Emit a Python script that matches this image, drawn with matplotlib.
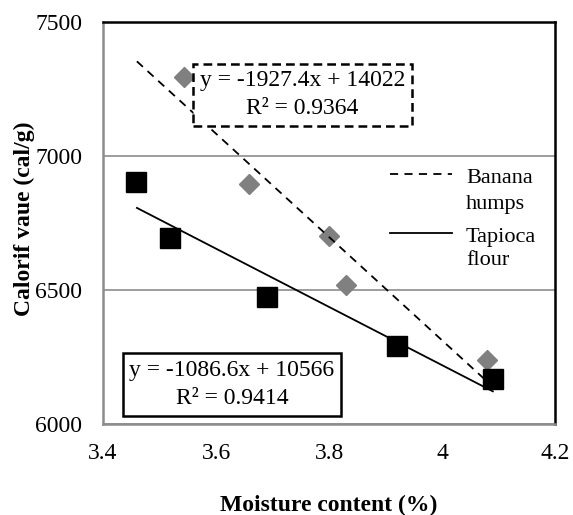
import numpy as np
import matplotlib

matplotlib.use("Agg")
import matplotlib.pyplot as plt

# data
banana_x = [3.543, 3.658, 3.80, 3.830, 4.080]
banana_y = [7295, 6895, 6701, 6519, 6239]
tapioca_x = [3.458, 3.519, 3.690, 3.920, 4.090]
tapioca_y = [6903, 6694, 6474, 6291, 6168]

banana_fit = (-1927.4, 14022)   # slope, intercept
tapioca_fit = (-1086.6, 10566)
banana_fit_range = [3.46, 4.08]
tapioca_fit_range = [3.46, 4.09]
banana_r2 = "0.9364"
tapioca_r2 = "0.9414"

x_ticks = [3.4, 3.6, 3.8, 4.0, 4.2]
x_tick_labels = ["3.4", "3.6", "3.8", "4", "4.2"]
y_ticks = [6000, 6500, 7000, 7500]

plt.rcParams["font.family"] = ["Liberation Serif", "DejaVu Serif"]
FS = 17

W, H = 573, 515
fig = plt.figure(figsize=(W / 100, H / 100), dpi=100)
ax = fig.add_axes([103 / W, 1 - 424 / H, 452 / W, 402 / H])

ax.set_xlim(3.4, 4.2)
ax.set_ylim(6000, 7500)
ax.set_xticks(x_ticks)
ax.set_xticklabels(x_tick_labels)
ax.set_yticks(y_ticks)
ax.tick_params(axis="both", length=0, labelsize=FS)
ax.tick_params(axis="x", pad=14)
ax.tick_params(axis="y", pad=15)

ax.grid(axis="y", color="#8c8c8c", lw=1.2)
ax.set_axisbelow(True)
for side in ["left", "bottom"]:
    ax.spines[side].set_color("#8c8c8c")
    ax.spines[side].set_linewidth(1.8)
for side in ["top", "right"]:
    ax.spines[side].set_color("black")
    ax.spines[side].set_linewidth(1.8)

# markers
ax.plot(banana_x, banana_y, ls="none", marker="D", ms=10, color="#808080",
        zorder=3)
ax.plot(tapioca_x, tapioca_y, ls="none", marker="s", ms=14, color="black",
        zorder=3)

# trend lines
bx = np.array(banana_fit_range)
ax.plot(bx, banana_fit[0] * bx + banana_fit[1], color="black", lw=1.3,
        dashes=(4.5, 3.5), zorder=4)
tx = np.array(tapioca_fit_range)
ax.plot(tx, tapioca_fit[0] * tx + tapioca_fit[1], color="black", lw=1.3,
        zorder=4)

# equation labels
ax.text(3.753, 7228,
        f"y = {banana_fit[0]}x + {banana_fit[1]}\nR² = {banana_r2}",
        ha="center", va="center", multialignment="center", fontsize=FS,
        linespacing=1.45, zorder=5,
        bbox=dict(boxstyle="square,pad=0.28", fc="white", ec="black", lw=1.8,
                  ls=(0, (3.5, 2))))
ax.text(3.628, 6147,
        f"y = {tapioca_fit[0]}x + {tapioca_fit[1]}\nR² = {tapioca_r2}",
        ha="center", va="center", multialignment="center", fontsize=FS,
        linespacing=1.45, zorder=5,
        bbox=dict(boxstyle="square,pad=0.28", fc="white", ec="black", lw=1.8))

# legend (line handles aligned with the first label line, as in the original)
leg_x0, leg_x1, leg_tx = 0.635, 0.772, 0.803
ax.plot([leg_x0, leg_x1], [0.622, 0.622], transform=ax.transAxes,
        color="black", lw=1.3, dashes=(4.5, 3.5))
ax.text(leg_tx, 0.611, "Banana", transform=ax.transAxes, fontsize=FS - 1,
        va="center")
ax.text(leg_tx, 0.546, "humps", transform=ax.transAxes, fontsize=FS - 1,
        va="center")
ax.plot([leg_x0, leg_x1], [0.475, 0.475], transform=ax.transAxes,
        color="black", lw=1.3)
ax.text(leg_tx, 0.464, "Tapioca", transform=ax.transAxes, fontsize=FS - 1,
        va="center")
ax.text(leg_tx, 0.406, "flour", transform=ax.transAxes, fontsize=FS - 1,
        va="center")

fig.text(329 / W, 1 - 505 / H, "Moisture content (%)", ha="center",
         va="center", fontsize=FS, fontweight="bold")
fig.text(24 / W, 1 - 219 / H, "Calorif vaue (cal/g)", ha="center",
         va="center", rotation=90, fontsize=FS, fontweight="bold")

fig.savefig("out.png", dpi=100)
